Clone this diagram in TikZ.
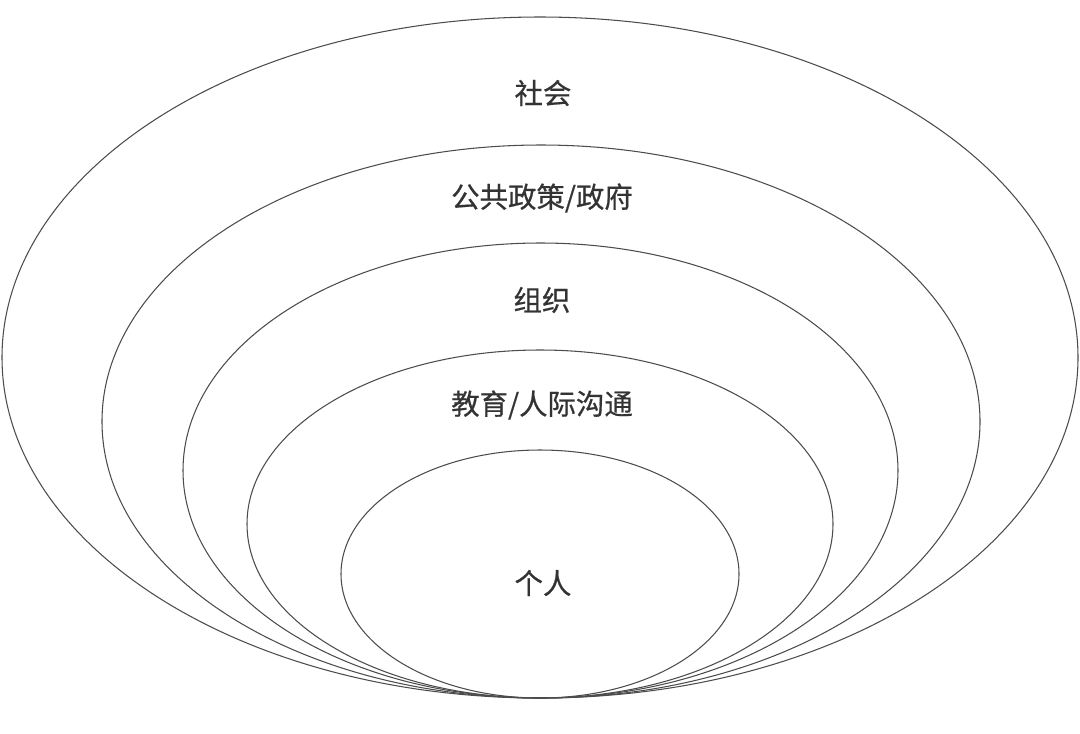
\documentclass[tikz,border=0pt]{standalone}
\usepackage{fontspec}
\usepackage{xcolor}
\usepackage{tikz}
\newfontfamily\cjk[FakeBold=0.6]{Noto Sans CJK SC}
\definecolor{ringline}{rgb}{0.30,0.30,0.30}
\definecolor{ringtext}{rgb}{0.20,0.20,0.20}

\begin{document}
\begin{tikzpicture}[x=0.025cm, y=-0.025cm, font=\cjk\fontsize{20.2}{24}\selectfont]
  \tikzset{ring/.style={draw=ringline, line width=0.75pt},
           ringlabel/.style={text=ringtext, inner sep=0pt}}
  \useasboundingbox (0,0) rectangle (1080,733);
  % rings, all touching at the bottom
  \draw[ring] (540,357.5) ellipse [x radius=538, y radius=340.5];
  \draw[ring] (541,421.5) ellipse [x radius=439, y radius=276.5];
  \draw[ring] (540.5,470.5) ellipse [x radius=357.5, y radius=227.5];
  \draw[ring] (540,524) ellipse [x radius=293, y radius=174];
  \draw[ring] (540,574) ellipse [x radius=199, y radius=124];
  % labels
  \node[ringlabel] (society) at (543,93) {社会};
  \node[ringlabel] (policy) at (542,198) {公共政策/政府};
  \node[ringlabel] (org) at (542,300) {组织};
  \node[ringlabel] (edu) at (542,405) {教育/人际沟通};
  \node[ringlabel] (person) at (543,583) {个人};
\end{tikzpicture}
\end{document}
